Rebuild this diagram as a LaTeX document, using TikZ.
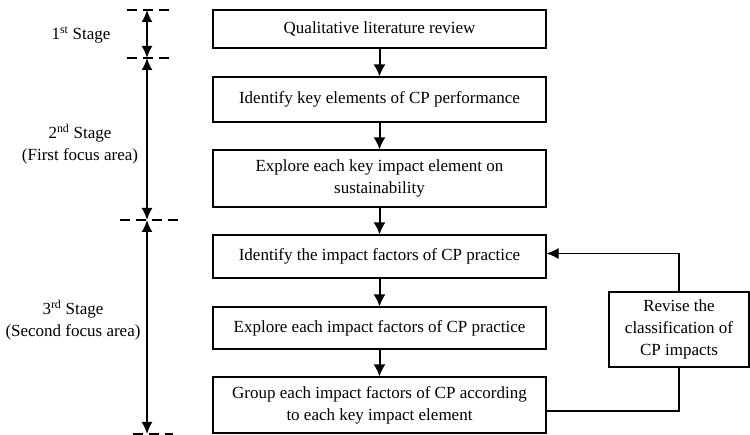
\documentclass[tikz,border=0pt]{standalone}
\usepackage{fontspec}
\setmainfont{Liberation Serif}
\usetikzlibrary{arrows.meta,calc}
\begin{document}
\begin{tikzpicture}[x=1pt,y=-1pt,
  font=\fontsize{17}{22}\selectfont,
  stepbox/.style={draw,line width=1.1pt,rectangle,minimum width=333pt,align=center,inner sep=0pt},
  tip/.style={Latex[length=12pt,width=12pt]},
  flow/.style={line width=2pt,-{Latex[length=12pt,width=12pt]}},
  dim/.style={line width=1.8pt,{Latex[length=12pt,width=11pt]}-{Latex[length=12pt,width=11pt]}},
  dashline/.style={line width=1.1pt,dash pattern=on 10pt off 6pt},
  lbl/.style={align=center,inner sep=0pt}]
\useasboundingbox (0,0) rectangle (750,435);
% boxes
\node[stepbox,minimum height=38pt] (b1) at (379.5,29) {Qualitative literature review};
\node[stepbox,minimum height=45pt] (b2) at (379.5,99.5) {Identify key elements of CP performance};
\node[stepbox,minimum height=57pt] (b3) at (379.5,178.5) {Explore each key impact element on\\sustainability};
\node[stepbox,minimum height=43pt] (b4) at (379.5,256.5) {Identify the impact factors of CP practice};
\node[stepbox,minimum height=42pt] (b5) at (379.5,328) {Explore each impact factors of CP practice};
\node[stepbox,minimum height=56pt] (b6) at (379.5,405) {Group each impact factors of CP according\\to each key impact element};
\node[draw,line width=1.1pt,minimum width=140pt,minimum height=75pt,align=center,inner sep=0pt] (rev) at (679,329.5) {Revise the\\classification of\\CP impacts};
% flow arrows
\draw[flow] (b1) -- (b2);
\draw[flow] (b2) -- (b3);
\draw[flow] (b3) -- (b4);
\draw[flow] (b4) -- (b5);
\draw[flow] (b5) -- (b6);
% feedback
\coordinate (fb) at ($(b6.east)+(0,6)$);
\draw[line width=1.1pt] (fb) -| (rev.south);
\draw[line width=1.1pt,-{Latex[length=12pt,width=11pt]}] (rev.north) |- ($(b4.east)+(0,-3)$);
% stage dimension lines
\coordinate (d0) at (147,10);
\coordinate (d1) at (147,58);
\coordinate (d2) at (147,220);
\coordinate (d3) at (147,434);
\draw[dim] (d0) -- (d1);
\draw[dim] (d1) -- (d2);
\draw[dim] (d2) -- (d3);
\draw[dashline] ($(d0)+(-20,0)$) -- ($(d0)+(26,0)$);
\draw[dashline] ($(d1)+(-20,0)$) -- ($(d1)+(26,0)$);
\draw[dashline] ($(d2)+(-27,0)$) -- ($(d2)+(33,0)$);
\draw[dashline] ($(d3)+(-14,0)$) -- ($(d3)+(26,0)$);
% stage labels
\node[lbl] (s1) at (81,35) {1\textsuperscript{st} Stage};
\node[lbl] (s2) at (80,144) {2\textsuperscript{nd} Stage\\(First focus area)};
\node[lbl] (s3) at (73,320) {3\textsuperscript{rd} Stage\\(Second focus area)};
\end{tikzpicture}
\end{document}
